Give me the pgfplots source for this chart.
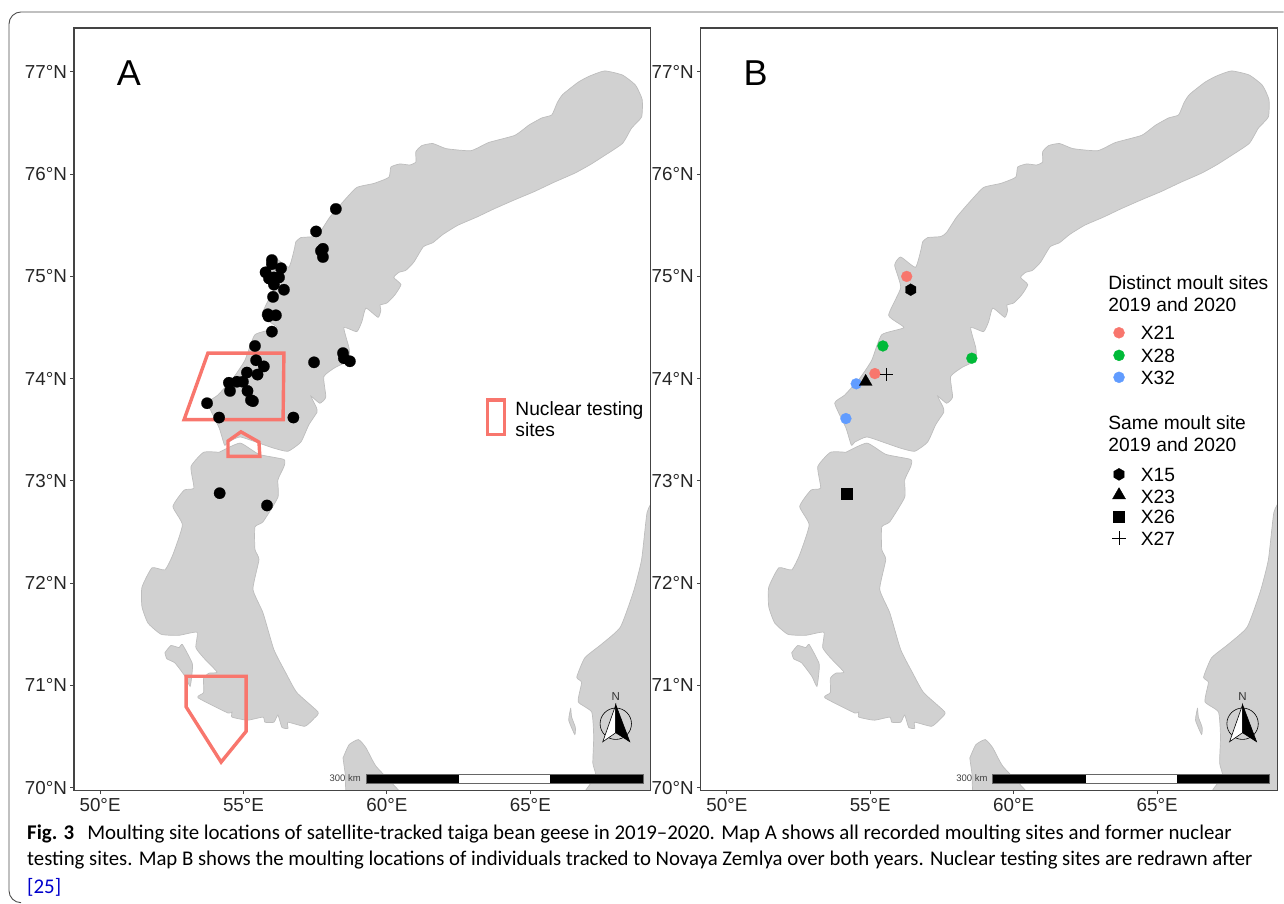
\documentclass[border=0pt]{standalone}
\usepackage{fontspec}
\setmainfont{Liberation Sans}
\newfontfamily\capfont{Carlito}
\usepackage{graphicx}
\usepackage{pgfplots}
\usepackage{pgfplotstable}
\pgfplotsset{compat=1.18}
\usetikzlibrary{plotmarks}
\definecolor{land}{HTML}{D1D1D1}
\definecolor{landedge}{HTML}{BDBDBD}
\definecolor{nuke}{HTML}{F8766D}
\definecolor{gX}{HTML}{00BA38}
\definecolor{bX}{HTML}{619CFF}
\definecolor{axisgrey}{HTML}{444444}
\pgfplotstableread{
lon lat
56.79 75.29
56.83 75.34
57.00 75.38
57.46 75.39
57.66 75.43
58.01 75.58
58.47 75.73
58.95 75.87
59.55 75.91
60.07 75.97
60.14 76.07
60.45 76.10
60.80 76.09
61.01 76.12
61.01 76.22
61.22 76.28
61.60 76.30
62.07 76.25
62.93 76.23
63.55 76.31
64.46 76.38
64.95 76.48
65.40 76.55
65.75 76.58
65.94 76.70
66.13 76.78
66.67 76.90
67.07 76.96
67.59 77.01
68.21 76.97
68.67 76.87
68.90 76.73
68.88 76.56
68.53 76.45
68.21 76.30
67.52 76.17
67.07 76.09
66.55 76.01
65.82 75.92
65.14 75.83
64.46 75.75
63.73 75.66
63.13 75.58
62.47 75.50
61.95 75.41
61.60 75.33
61.27 75.29
60.94 75.14
60.66 75.06
60.42 75.04
60.24 74.99
60.49 74.92
60.28 74.82
60.00 74.74
59.76 74.72
59.79 74.67
59.69 74.60
59.27 74.69
59.13 74.56
58.95 74.46
58.50 74.50
58.68 74.30
58.68 74.18
58.20 74.11
57.80 74.02
57.87 73.82
57.66 73.76
57.35 73.83
57.54 73.72
57.56 73.67
57.28 73.55
57.00 73.38
56.55 73.29
56.06 73.32
55.54 73.37
54.88 73.43
54.46 73.38
54.34 73.35
54.15 73.52
53.76 73.76
54.11 73.84
54.65 74.01
55.05 74.18
55.40 74.43
56.17 74.50
55.64 74.62
56.06 74.89
55.85 75.11
56.06 75.19
56.58 75.09
56.79 75.29
}\landN
\pgfplotstableread{
lon lat
54.15 73.28
54.88 73.37
55.54 73.26
56.41 73.21
56.41 73.14
56.20 73.01
56.20 72.84
55.68 72.60
55.40 72.55
55.40 72.33
55.54 72.23
55.33 71.94
55.68 71.71
56.06 71.35
56.48 71.12
56.86 70.93
57.60 70.74
57.47 70.68
57.14 70.60
56.55 70.64
56.55 70.58
56.34 70.59
56.20 70.71
56.06 70.64
55.75 70.64
55.68 70.69
55.14 70.66
54.60 70.69
54.60 70.74
54.46 70.73
53.41 70.88
53.61 70.93
53.61 71.07
53.80 71.12
54.08 71.13
53.61 71.27
53.34 71.37
53.38 71.52
52.75 71.49
52.13 71.50
51.67 71.61
51.46 71.77
51.46 71.96
51.81 72.15
52.26 72.13
52.54 72.28
52.87 72.57
52.54 72.75
52.93 72.91
53.27 72.93
53.17 73.14
53.61 73.28
54.15 73.28
}\landS
\pgfplotstableread{
lon lat
52.26 71.32
52.47 71.39
52.75 71.37
52.87 71.40
53.21 71.22
53.21 71.13
53.14 70.99
52.96 71.09
52.61 71.22
52.33 71.26
52.26 71.32
}\landI
\pgfplotstableread{
lon lat
58.47 70.29
58.68 70.42
59.01 70.47
59.27 70.39
59.62 70.21
60.42 69.97
60.6 69.85
58.7 69.85
58.54 70.15
58.47 70.29
}\landV
\pgfplotstableread{
lon lat
69.30 72.82
69.07 72.69
68.88 72.23
68.60 71.92
68.14 71.57
67.47 71.40
66.90 71.27
66.62 71.08
66.79 71.03
66.67 70.84
67.14 70.74
67.21 70.50
67.18 70.24
67.28 70.11
66.86 69.90
69.30 69.90
69.30 72.82
}\landM
\pgfplotstableread{
lon lat
66.41 70.78
66.34 70.66
66.55 70.52
66.57 70.59
66.44 70.69
66.41 70.78
}\landT
\pgfplotstableread{
lon lat
58.22 75.66
57.53 75.44
57.77 75.27
57.70 75.25
57.77 75.19
55.99 75.16
55.99 75.12
56.31 75.08
55.77 75.04
55.89 74.98
56.24 74.99
56.06 74.99
56.06 74.92
56.41 74.87
56.03 74.80
55.85 74.63
56.13 74.62
55.87 74.61
55.99 74.46
55.40 74.32
55.44 74.18
55.71 74.12
55.12 74.06
55.49 74.04
54.77 73.97
54.98 73.97
54.49 73.96
54.53 73.88
55.14 73.88
55.26 73.79
55.33 73.78
53.73 73.76
54.15 73.62
56.74 73.62
57.46 74.16
58.47 74.25
58.50 74.20
58.71 74.17
54.17 72.88
55.82 72.76
}\sites
\pgfdeclareplotmark{hexa}{%
  \pgfpathmoveto{\pgfqpointpolar{90}{\pgfplotmarksize}}%
  \pgfpathlineto{\pgfqpointpolar{150}{\pgfplotmarksize}}%
  \pgfpathlineto{\pgfqpointpolar{210}{\pgfplotmarksize}}%
  \pgfpathlineto{\pgfqpointpolar{270}{\pgfplotmarksize}}%
  \pgfpathlineto{\pgfqpointpolar{330}{\pgfplotmarksize}}%
  \pgfpathlineto{\pgfqpointpolar{30}{\pgfplotmarksize}}%
  \pgfpathclose\pgfusepathqfillstroke}
\newcommand\lf{\fontsize{19.2}{22}\selectfont}
\pgfplotsset{
  mapaxis/.style={
    scale only axis, width=577pt, height=763pt,
    anchor=south west,
    xmin=49.09, xmax=69.2, ymin=69.97, ymax=77.43,
    xtick={50,55,60,65}, xticklabels={50°E,55°E,60°E,65°E},
    ytick={70,71,72,73,74,75,76,77},
    yticklabels={70°N,71°N,72°N,73°N,74°N,75°N,76°N,77°N},
    tick label style={font=\fontsize{18.8}{22}\selectfont, text=black!85},
    xticklabel style={yshift=-1pt},
    tick align=outside, xtick pos=bottom, ytick pos=left,
    major tick length=3.5pt,
    tick style={color=axisgrey, line width=0.9pt},
    axis line style={color=axisgrey, line width=1.2pt},
    axis on top=true,
    legend cell align=left,
  },
  landpoly/.style={fill=land, draw=landedge, line width=0.7pt, smooth, tension=0.3, forget plot},
  nukepoly/.style={draw=nuke, line width=3.4pt, line join=miter, forget plot},
}
\newcommand\drawland{%
  \addplot[landpoly] table[x=lon,y=lat] {\landM};
  \addplot[landpoly] table[x=lon,y=lat] {\landV};
  \addplot[landpoly] table[x=lon,y=lat] {\landT};
  \addplot[landpoly] table[x=lon,y=lat] {\landI};
  \addplot[landpoly] table[x=lon,y=lat] {\landS};
  \addplot[landpoly] table[x=lon,y=lat] {\landN};
}
\newcommand\mapdeco[1]{%
  \begin{scope}[xshift=#1]
    % scale bar
    \fill[black] (366pt,121pt) rectangle (459pt,130pt);
    \fill[white] (459pt,121pt) rectangle (550pt,130pt);
    \fill[black] (550pt,121pt) rectangle (643pt,130pt);
    \draw[black!60,line width=0.4pt] (366pt,121pt) rectangle (643pt,130pt);
    \node[anchor=east,inner sep=0pt,font=\fontsize{9.5}{11}\selectfont,text=black!75] at (361pt,125.5pt) {300 km};
    % north arrow
    \draw[black,line width=0.6pt] (616pt,180pt) circle (15.7pt);
    \filldraw[fill=white,draw=black,line width=0.6pt] (616pt,199pt) -- (603pt,162pt) -- (616pt,171pt) -- cycle;
    \filldraw[fill=black,draw=black,line width=0.6pt] (616pt,199pt) -- (630pt,162pt) -- (616pt,171pt) -- cycle;
    \node[inner sep=0pt,font=\fontsize{11.5}{13}\selectfont,text=black!80] at (616pt,207pt) {N};
  \end{scope}
}
\newcommand\rowt[2]{\rule[-5pt]{0pt}{#1pt}#2}
\newcommand\ttl[2]{\rlap{\hspace*{-33pt}\rule[-5pt]{0pt}{#1pt}#2}}
\begin{document}
\begin{tikzpicture}[x=1pt,y=1pt]
\path (0pt,0pt) rectangle (1284pt,904pt);
% outer frame
\draw[color=black!70,line width=0.9pt] (1284pt,892pt) -- (21pt,892pt) arc (90:180:12pt) -- (9pt,13pt) arc (180:270:12pt);

\begin{axis}[mapaxis, at={(74pt,113pt)},
  legend style={at={(0.714,0.515)},anchor=north west,draw=none,fill=none,inner sep=0pt,font=\lf,
    /tikz/every odd column/.style={column sep=7pt}},
  legend image code/.code={\draw[#1] (0pt,-12pt) rectangle (17pt,23pt);},
]
\drawland
\addplot[nukepoly] coordinates {(53.76,74.25)(56.41,74.25)(56.38,73.60)(52.93,73.60)} -- cycle;
\addplot[nukepoly] coordinates {(54.46,73.24)(55.57,73.24)(55.54,73.38)(54.91,73.48)(54.46,73.39)} -- cycle;
\addplot[nukepoly] coordinates {(53.00,71.09)(55.09,71.09)(55.09,70.55)(54.22,70.25)(53.00,70.79)} -- cycle;
\addplot[only marks, mark=*, mark size=5.7pt, mark options={fill=black,draw=black,line width=0.2pt}, forget plot] table[x=lon,y=lat] {\sites};
\addlegendimage{draw=nuke, line width=3.4pt, line join=miter}
\addlegendentry{\raisebox{6pt}{\shortstack[l]{Nuclear testing\\sites}}}
\end{axis}

\begin{axis}[mapaxis, at={(701pt,113pt)},
  legend style={at={(0.710,0.677)},anchor=north west,draw=none,fill=none,inner sep=0pt,font=\lf,
    row sep=0pt, nodes={inner sep=0pt},
    /tikz/every odd column/.style={column sep=15pt}},
]
\drawland
\addplot[only marks, mark=*, mark size=5.5pt, mark options={fill=nuke,draw=nuke,line width=0.2pt}, forget plot] coordinates {(56.27,75.00)(55.16,74.05)};
\addplot[only marks, mark=*, mark size=5.5pt, mark options={fill=gX,draw=gX,line width=0.2pt}, forget plot] coordinates {(55.44,74.32)(58.54,74.20)};
\addplot[only marks, mark=*, mark size=5.5pt, mark options={fill=bX,draw=bX,line width=0.2pt}, forget plot] coordinates {(54.51,73.95)(54.15,73.61)};
\addplot[only marks, mark=hexa, mark size=6pt, mark options={fill=black,draw=black,line width=0.2pt}, forget plot] coordinates {(56.41,74.87)};
\addplot[only marks, mark=triangle*, mark size=7.5pt, mark options={fill=black,draw=black,line width=0.2pt}, forget plot] coordinates {(54.84,73.97)};
\addplot[only marks, mark=square*, mark size=5.5pt, mark options={fill=black,draw=black,line width=0.2pt}, forget plot] coordinates {(54.18,72.88)};
\addplot[only marks, mark=+, mark size=6.8pt, mark options={draw=black,line width=0.7pt}, forget plot] coordinates {(55.57,74.04)};
\addlegendimage{empty legend}\addlegendentry{\ttl{20}{Distinct moult sites}}
\addlegendimage{empty legend}\addlegendentry{\ttl{25}{2019 and 2020}}
\addlegendimage{only marks, mark=*, mark size=5.5pt, mark options={fill=nuke,draw=nuke,yshift=-6pt}}\addlegendentry{\rowt{32}{X21}}
\addlegendimage{only marks, mark=*, mark size=5.5pt, mark options={fill=gX,draw=gX,yshift=-3pt}}\addlegendentry{\rowt{26.2}{X28}}
\addlegendimage{only marks, mark=*, mark size=5.5pt, mark options={fill=bX,draw=bX,yshift=-2.5pt}}\addlegendentry{\rowt{25.7}{X32}}
\addlegendimage{empty legend}\addlegendentry{\ttl{48.7}{Same moult site}}
\addlegendimage{empty legend}\addlegendentry{\ttl{25.7}{2019 and 2020}}
\addlegendimage{only marks, mark=hexa, mark size=6pt, mark options={fill=black,draw=black,yshift=-6pt}}\addlegendentry{\rowt{33.7}{X15}}
\addlegendimage{only marks, mark=triangle*, mark size=7.5pt, mark options={fill=black,draw=black,yshift=-1pt}}\addlegendentry{\rowt{24.9}{X23}}
\addlegendimage{only marks, mark=square*, mark size=5.5pt, mark options={fill=black,draw=black,yshift=-2pt}}\addlegendentry{\rowt{23.7}{X26}}
\addlegendimage{only marks, mark=+, mark size=6.8pt, mark options={draw=black,line width=0.7pt,yshift=-2pt}}\addlegendentry{\rowt{25.7}{X27}}
\end{axis}

\mapdeco{0pt}
\mapdeco{627pt}
\node[anchor=center,inner sep=0pt,font=\fontsize{36}{40}\selectfont] at (129pt,831pt) {A};
\node[anchor=center,inner sep=0pt,font=\fontsize{36}{40}\selectfont] at (756pt,831pt) {B};

% caption
\node[anchor=base west,inner sep=0pt,font=\capfont\fontsize{20.9}{24}\selectfont] at (27pt,64pt) {\textbf{Fig. 3}\hspace{13pt}Moulting site locations of satellite-tracked taiga bean geese in 2019–2020. Map A shows all recorded moulting sites and former nuclear};
\node[anchor=base west,inner sep=0pt,font=\capfont\fontsize{20.9}{24}\selectfont] at (27pt,38pt) {\scalebox{0.995}[1]{testing sites. Map B shows the moulting locations of individuals tracked to Novaya Zemlya over both years. Nuclear testing sites are redrawn after}};
\node[anchor=base west,inner sep=0pt,font=\capfont\fontsize{20.9}{24}\selectfont,text=blue!80!black] at (27pt,10pt) {[25]};
\end{tikzpicture}
\end{document}
